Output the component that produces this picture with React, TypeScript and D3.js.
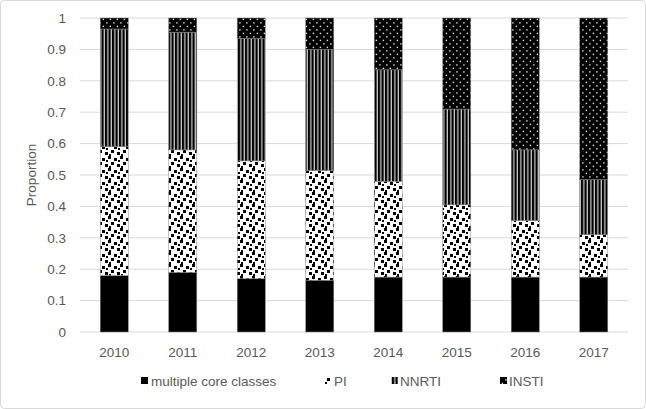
import React from "react";
import * as d3 from "d3";

const years = ["2010", "2011", "2012", "2013", "2014", "2015", "2016", "2017"];
const multipleCore = [0.18, 0.19, 0.17, 0.165, 0.175, 0.175, 0.175, 0.175];
const pi = [0.41, 0.39, 0.375, 0.35, 0.305, 0.23, 0.18, 0.135];
const nnrti = [0.375, 0.375, 0.39, 0.385, 0.355, 0.305, 0.225, 0.175];
const insti = [0.035, 0.045, 0.065, 0.1, 0.165, 0.29, 0.42, 0.515];
const seriesNames = ["multiple core classes", "PI", "NNRTI", "INSTI"];
const yTicks = [0, 0.1, 0.2, 0.3, 0.4, 0.5, 0.6, 0.7, 0.8, 0.9, 1];

const W = 646;
const H = 409;
const margin = { left: 80, right: 18, top: 18, bottom: 77 };
const fills = ["#000", "url(#pat-pi)", "url(#pat-nnrti)", "url(#pat-insti)"];

export default function App() {
  const x = d3
    .scaleBand<string>()
    .domain(years)
    .range([margin.left, W - margin.right])
    .paddingInner(0.59)
    .paddingOuter(0.295);
  const y = d3.scaleLinear().domain([0, 1]).range([H - margin.bottom, margin.top]);

  const rows = years.map((yr, i) => ({
    year: yr,
    s0: multipleCore[i],
    s1: pi[i],
    s2: nnrti[i],
    s3: insti[i],
  }));
  const stack = d3.stack<any>().keys(["s0", "s1", "s2", "s3"]);
  const layers = stack(rows);

  const font = "'Liberation Sans', Arial, sans-serif";
  const gray = "#595959";

  const legendItems = [
    { x: 141, tx: 151 },
    { x: 325, tx: 334 },
    { x: 391, tx: 400 },
    { x: 500, tx: 509 },
  ];

  return (
    <svg width={W} height={H} style={{ position: "absolute", left: 0, top: 0 }}>
      <defs>
        <pattern id="pat-pi" width="12" height="12" patternUnits="userSpaceOnUse">
          <rect width="12" height="12" fill="#fff" />
          <rect x="0" y="0" width="3" height="3" fill="#000" />
          <rect x="6" y="2" width="3" height="3" fill="#000" />
          <rect x="3" y="6" width="3" height="3" fill="#000" />
          <rect x="9" y="8" width="3" height="3" fill="#000" />
          <rect x="1" y="10" width="2" height="2" fill="#000" />
          <rect x="10" y="4" width="2" height="2" fill="#000" />
        </pattern>
        <pattern id="pat-nnrti" width="3.5" height="4" patternUnits="userSpaceOnUse">
          <rect width="3.5" height="4" fill="#c8c8c8" />
          <rect x="0" y="0" width="2.2" height="4" fill="#000" />
        </pattern>
        <pattern id="pat-insti" width="7" height="7" patternUnits="userSpaceOnUse">
          <rect width="7" height="7" fill="#000" />
          <rect x="1.2" y="1.2" width="1.4" height="1.4" fill="#e0e0e0" />
          <rect x="4.7" y="4.7" width="1.4" height="1.4" fill="#e0e0e0" />
        </pattern>
      </defs>
      <rect x={0.5} y={0.5} width={W - 1} height={H - 1} rx={4} fill="#fff" stroke="#d9d9d9" />
      {yTicks.map((t) => (
        <g key={t}>
          <line x1={margin.left} x2={W - margin.right} y1={y(t)} y2={y(t)} stroke="#d9d9d9" strokeWidth={1} />
          <text x={66} y={y(t)} dy="0.35em" textAnchor="end" fontFamily={font} fontSize={13.5} fill={gray}>
            {t}
          </text>
        </g>
      ))}
      {layers.map((layer, li) =>
        layer.map((d, i) => (
          <rect
            key={li + "-" + i}
            x={x(years[i])}
            y={y(d[1])}
            width={x.bandwidth()}
            height={y(d[0]) - y(d[1])}
            fill={fills[li]}
            stroke="#888"
            strokeWidth={0.5}
          />
        ))
      )}
      {years.map((yr) => (
        <text
          key={yr}
          x={(x(yr) as number) + x.bandwidth() / 2}
          y={357}
          textAnchor="middle"
          fontFamily={font}
          fontSize={13.5}
          fill={gray}
        >
          {yr}
        </text>
      ))}
      <text
        transform={`translate(36, ${(y(0) + y(1)) / 2}) rotate(-90)`}
        textAnchor="middle"
        fontFamily={font}
        fontSize={13.5}
        fill={gray}
      >
        Proportion
      </text>
      {seriesNames.map((name, i) => (
        <g key={name}>
          <rect x={legendItems[i].x} y={377} width={7} height={7} fill={fills[i]} />
          <text x={legendItems[i].tx} y={381} dy="0.35em" fontFamily={font} fontSize={13.5} fill={gray}>
            {name}
          </text>
        </g>
      ))}
    </svg>
  );
}
